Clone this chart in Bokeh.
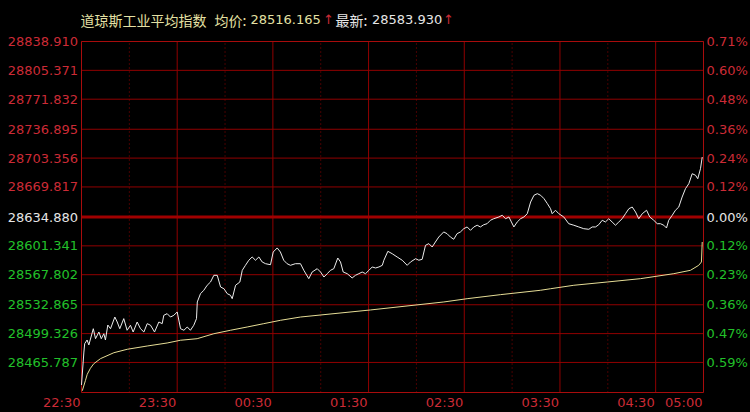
from bokeh.plotting import figure
from bokeh.models import Range1d
from bokeh.core.properties import value
from bokeh.embed import file_html
from bokeh.resources import INLINE

# ---------------- data ----------------
title_name = "道琼斯工业平均指数"
avg_caption = "均价:"
avg_value = "28516.165"
last_caption = "最新:"
last_value = "28583.930"
arrow = "↑"

prev_close = 28634.880
y_bottom = 28430.850
y_labels = ["28838.910", "28805.371", "28771.832", "28736.895", "28703.356", "28669.817",
            "28634.880", "28601.341", "28567.802", "28532.865", "28499.326", "28465.787"]
pct_labels = ["0.71%", "0.60%", "0.48%", "0.36%", "0.24%", "0.12%",
              "0.00%", "0.12%", "0.23%", "0.36%", "0.47%", "0.59%"]

x_tick_minutes = [0, 60, 120, 180, 240, 300, 360, 390]
x_tick_labels = ["22:30", "23:30", "00:30", "01:30", "02:30", "03:30", "04:30", "05:00"]
hour_minutes = [60, 120, 180, 240, 300, 360]
half_hour_minutes = [30, 90, 150, 210, 270, 330]

# minutes after 22:30
price_t = [0, 1.5, 2, 3.5, 4.6, 7.4, 8.8, 10.9, 12.4, 14, 15, 16.5, 18.2, 20.9, 22.4,
           24, 26.5, 28.6, 30.7, 32.4, 34.9, 37, 39.1, 41.2, 43.3, 45.8, 48.5, 50.6, 51.6, 53.7,
           55.8, 57.9, 60, 62.1, 64.2, 66.3, 68.3, 70.4, 72.1, 72.6, 74.6, 76.7, 78.8, 80.9, 83,
           85.1, 87.2, 89.3, 91.4, 93.4, 94.5, 96.6, 99.3, 100.8, 102.8, 104.9, 107, 109.1, 111.2, 113.3,
           115.4, 118.5, 120.2, 122.7, 124.7, 126.8, 128.9, 131, 134.1, 137.3,
           139.4, 142.5, 144.6, 147.8, 149.9, 152, 154.1, 156.1, 158.2, 160.7,
           162.4, 164.1, 166.6, 169.7, 171.8, 173.9, 176, 178.1, 180.2, 182.3,
           184.4, 186.5, 188.6, 189.6, 192.1, 194.8, 197.9, 201.1, 204.2, 206.3,
           209.5, 211.5, 213.6, 215.7, 217.8, 219.9, 221.9, 224, 227.1, 229.2,
           231.3, 233.4, 235.5, 237.6, 239.7, 241.8, 243.9, 246, 248.1, 250.1,
           252.2, 254.3, 256.4, 258.5, 261.7, 263.8, 265.9, 268, 271.1, 273.2,
           275.3, 277.4, 279.5, 281.6, 283.7, 285.8, 287.9, 290, 292.1, 294.1,
           295.1, 297.2, 299.3, 302.4, 305.5, 308.7, 311.8, 314.9, 318.1, 320.2,
           322.3, 324.3, 326.5, 328.5, 330.6, 332.7, 334.8, 336.9, 339, 341.1,
           343.2, 345.3, 347.4, 349.4, 351.6, 354.3, 356.3, 358.8, 361, 363,
           365.1, 366.8, 368.2, 370.4, 372.4, 374.5, 376.6, 378.7, 380.8, 382.9,
           385, 386.4, 388.1, 389.2]
price_v = [28439.6, 28477.9, 28487.6, 28491.9, 28486.1, 28505.0, 28493.4, 28501.2, 28493.4, 28499.2,
           28491.9, 28509.3, 28505.0, 28518.6, 28512.8, 28505.0, 28516.7, 28503.2, 28509.0, 28501.2,
           28512.8, 28505.0, 28501.2, 28510.9, 28509.0, 28501.2, 28512.8, 28510.9, 28520.6, 28522.5,
           28518.6, 28520.6, 28524.5, 28505.0, 28503.2, 28507.0, 28503.2, 28509.0, 28516.7, 28536.1,
           28545.7, 28549.7, 28555.5, 28559.3, 28567.1, 28567.1, 28553.5, 28551.5, 28545.7, 28543.9,
           28539.9, 28555.5, 28559.3, 28572.9, 28578.7, 28584.6, 28588.4, 28584.6, 28588.4, 28582.6,
           28580.6, 28579.4, 28594.2, 28598.9, 28594.2, 28584.6, 28580.6, 28578.7, 28580.6, 28580.6,
           28572.9, 28563.2, 28570.9, 28574.8, 28570.9, 28565.1, 28569.0, 28572.9, 28574.8, 28587.2,
           28582.6, 28570.9, 28569.0, 28564.0, 28567.1, 28569.0, 28570.9, 28569.0, 28572.9, 28576.8,
           28575.6, 28576.8, 28578.7, 28584.6, 28595.0, 28592.2, 28588.4, 28584.6, 28578.7, 28582.6,
           28586.4, 28584.6, 28585.7, 28602.0, 28603.9, 28600.0, 28605.8, 28611.6, 28617.5, 28615.5,
           28611.6, 28609.0, 28615.5, 28617.5, 28621.3, 28623.3, 28619.4, 28623.3, 28625.3, 28623.3,
           28625.9, 28627.1, 28631.1, 28632.9, 28634.9, 28636.9, 28632.9, 28634.9, 28623.3, 28629.1,
           28632.9, 28634.9, 28638.7, 28652.3, 28660.1, 28662.0, 28660.1, 28656.2, 28650.4, 28644.5,
           28638.7, 28642.7, 28638.7, 28634.9, 28627.1, 28625.3, 28623.3, 28621.3, 28620.6, 28623.3,
           28623.3, 28625.9, 28631.1, 28629.1, 28632.9, 28629.1, 28625.3, 28629.1, 28632.9, 28638.7,
           28644.5, 28646.5, 28640.7, 28632.9, 28638.7, 28642.7, 28634.9, 28631.1, 28627.1, 28627.1,
           28625.3, 28622.1, 28631.1, 28636.9, 28642.7, 28646.5, 28658.1, 28667.8, 28673.6, 28685.2,
           28683.4, 28679.4, 28691.0, 28704.6]

avg_t = [0.5, 2.5, 3.6, 5.6, 7.7, 11.9, 20.3, 28.7, 41.2, 53.7, 62.1, 72.5, 83, 93.4, 103.9,
         114.3, 124.8, 137.3, 181.2, 227.2, 241.8, 262.7, 287.8, 294.1, 308.7, 329.6, 350.5,
         371.4, 381.8, 387, 388.7, 389.2]
avg_v = [28432.9, 28445.0, 28452.0, 28459.0, 28464.3, 28470.2, 28477.1, 28481.1, 28484.9, 28488.4,
         28491.6, 28493.4, 28499.2, 28503.2, 28507.0, 28510.9, 28514.8, 28518.6, 28526.8, 28536.1,
         28539.9, 28544.6, 28549.7, 28551.5, 28555.5, 28559.3, 28563.2, 28569.0, 28572.9, 28578.7,
         28582.6, 28605.8]

# ---------------- style ----------------
BG = "#000000"
GRID = "#900000"
FRAME = "#a80c0c"
ZERO = "#a00000"
RED_TXT = "#cc2b36"
GREEN_TXT = "#22c02a"
WHITE_TXT = "#e6e6e6"
YELLOW_TXT = "#e4e0a4"
PRICE_COLOR = "#ececec"
AVG_COLOR = "#e6dd96"
FONT = "DejaVu Sans"
CJK = "Noto Sans CJK SC"

W, H = 750, 412
PL, PR, PT, PB = 81, 703, 41, 392   # plot-area edges in canvas pixels

x0, x1 = x_tick_minutes[0], x_tick_minutes[-1]
y0, y1 = y_bottom, float(y_labels[0])
xpp = (x1 - x0) / (PR - PL)
ypp = (y1 - y0) / (PB - PT)

p = figure(width=W, height=H, output_backend="svg", toolbar_location=None,
           x_range=Range1d(x0 - PL * xpp, x1 + (W - PR) * xpp),
           y_range=Range1d(y0 - (H - PB) * ypp, y1 + PT * ypp),
           x_axis_location=None, y_axis_location=None, min_border=0)
p.background_fill_color = BG
p.border_fill_color = BG
p.outline_line_color = None
p.grid.visible = False

y_levels = [float(s) for s in y_labels]
h_levels = [v for v in y_levels if v != prev_close]

# horizontal grid
p.segment(x0=[x0] * len(h_levels), x1=[x1] * len(h_levels), y0=h_levels, y1=h_levels,
          line_color=GRID, line_width=1)
# vertical hour grid
p.segment(x0=hour_minutes, x1=hour_minutes, y0=[y0] * len(hour_minutes), y1=[y1] * len(hour_minutes),
          line_color=GRID, line_width=1)
# dotted half-hour grid
p.segment(x0=half_hour_minutes, x1=half_hour_minutes, y0=[y0] * len(half_hour_minutes),
          y1=[y1] * len(half_hour_minutes), line_color=GRID, line_width=1, line_dash="1 3")
# zero (previous close) line
p.segment(x0=[x0], x1=[x1], y0=[prev_close], y1=[prev_close], line_color=ZERO, line_width=3)
# frame
p.segment(x0=[x0, x1, x0, x0], x1=[x0, x1, x1, x1], y0=[y0, y0, y0, y1], y1=[y1, y1, y0, y1],
          line_color=FRAME, line_width=1)

p.line(price_t, price_v, line_color=PRICE_COLOR, line_width=1)
p.line(avg_t, avg_v, line_color=AVG_COLOR, line_width=1)

# value labels
colors = [RED_TXT if v > prev_close else (WHITE_TXT if v == prev_close else GREEN_TXT) for v in y_levels]
n = len(y_levels)
p.text(x=[x0] * n, y=y_levels, text=y_labels, text_color=colors, x_offset=-3.5,
       text_font=value(FONT), text_font_size=value("13px"),
       text_align="right", text_baseline="middle")
p.text(x=[x1] * n, y=y_levels, text=pct_labels, text_color=colors, x_offset=3,
       text_font=value(FONT), text_font_size=value("13px"),
       text_align="left", text_baseline="middle")

# time labels
m = len(x_tick_minutes)
p.text(x=x_tick_minutes, y=[y0] * m, text=x_tick_labels, text_color=RED_TXT,
       x_offset=-1, y_offset=9.5,
       text_font=value(FONT), text_font_size=value("13px"),
       text_align="right", text_baseline="middle")

# header
header = [
    (title_name, -1, CJK, "14px", YELLOW_TXT),
    (avg_caption, 133, CJK, "14px", YELLOW_TXT),
    (avg_value, 169, FONT, "13px", YELLOW_TXT),
    (arrow, 241.5, FONT, "13px", RED_TXT),
    (last_caption, 254, CJK, "14px", WHITE_TXT),
    (last_value, 290.5, FONT, "13px", WHITE_TXT),
    (arrow, 361.5, FONT, "13px", RED_TXT),
]
for txt, dx, fnt, size, col in header:
    p.text(x=[x0], y=[y1], text=[txt], x_offset=dx, y_offset=19 - PT,
           text_color=col, text_font=value(fnt), text_font_size=value(size),
           text_align="left", text_baseline="middle")

html = file_html(p, INLINE)
html = html.replace("</head>", "<style>html,body{background:#000;overflow:hidden}</style></head>", 1)
open("out.html", "w").write(html)
